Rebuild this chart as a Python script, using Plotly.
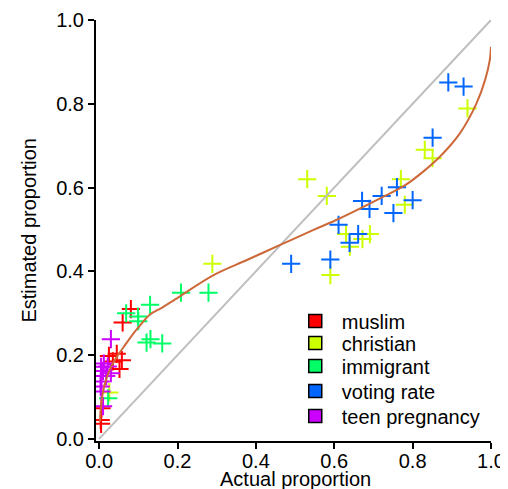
import plotly.graph_objects as go

# ---- data ----
muslim_x = [0.081, 0.060, 0.025, 0.045, 0.058, 0.052, 0.035, 0.006, 0.004, 0.005]
muslim_y = [0.310, 0.278, 0.198, 0.203, 0.188, 0.167, 0.185, 0.073, 0.045, 0.036]

christian_x = [0.940, 0.831, 0.851, 0.770, 0.531, 0.581, 0.780, 0.630, 0.691, 0.672, 0.640, 0.590, 0.289, 0.026]
christian_y = [0.789, 0.690, 0.670, 0.620, 0.620, 0.580, 0.559, 0.489, 0.489, 0.477, 0.459, 0.391, 0.418, 0.111]

immigrant_x = [0.209, 0.279, 0.130, 0.069, 0.099, 0.100, 0.121, 0.131, 0.161, 0.023]
immigrant_y = [0.349, 0.349, 0.320, 0.300, 0.292, 0.281, 0.230, 0.238, 0.228, 0.097]

voting_x = [0.891, 0.930, 0.851, 0.760, 0.721, 0.671, 0.800, 0.690, 0.751, 0.611, 0.661, 0.639, 0.590, 0.490]
voting_y = [0.851, 0.841, 0.719, 0.601, 0.580, 0.568, 0.570, 0.549, 0.539, 0.511, 0.489, 0.468, 0.428, 0.418]

teen_x = [0.030, 0.012, 0.022, 0.005, 0.010, 0.030, 0.005, 0.004, 0.004, 0.006, 0.010, 0.018]
teen_y = [0.238, 0.180, 0.173, 0.172, 0.162, 0.157, 0.150, 0.137, 0.125, 0.113, 0.078, 0.150]

curve_x = [0.002, 0.005, 0.010, 0.019, 0.031, 0.048, 0.066, 0.075, 0.100, 0.130, 0.160, 0.194,
           0.292, 0.377, 0.462, 0.547, 0.611, 0.717, 0.780, 0.827, 0.870, 0.921, 0.963, 0.985, 0.997, 1.0]
curve_y = [0.041, 0.077, 0.113, 0.145, 0.173, 0.200, 0.224, 0.236, 0.266, 0.297, 0.313, 0.333,
           0.391, 0.427, 0.463, 0.499, 0.525, 0.574, 0.605, 0.638, 0.674, 0.730, 0.801, 0.857, 0.905, 0.936]

diag_x = [0, 1]
diag_y = [0, 1]

tick_vals = [0.0, 0.2, 0.4, 0.6, 0.8, 1.0]
tick_text = ["0.0", "0.2", "0.4", "0.6", "0.8", "1.0"]

series = [
    ("muslim", muslim_x, muslim_y, "#FF0000"),
    ("christian", christian_x, christian_y, "#CCFF00"),
    ("immigrant", immigrant_x, immigrant_y, "#00FF66"),
    ("voting rate", voting_x, voting_y, "#0066FF"),
    ("teen pregnancy", teen_x, teen_y, "#CC00FF"),
]

FONT = "Liberation Sans, Arial, sans-serif"
FS = 20

# page has an 8px body margin; plot area spans pixels x 96..491, y 20..441 of the window
W, H = 500, 481
ML, MR, MT, MB = 88, 17, 12, 48
PLOT_H = H - MT - MB

def py_to_paper(p):
    return (441 - p) / PLOT_H

fig = go.Figure()

for name, xs, ys, col in series:
    fig.add_trace(go.Scatter(
        x=xs, y=ys, mode="markers", showlegend=False,
        marker=dict(symbol="cross-thin", size=13, line=dict(color=col, width=2)),
        hoverinfo="skip",
    ))

fig.add_trace(go.Scatter(x=diag_x, y=diag_y, mode="lines", showlegend=False,
                         line=dict(color="#BEBEBE", width=2), hoverinfo="skip"))
fig.add_trace(go.Scatter(x=curve_x, y=curve_y, mode="lines", showlegend=False,
                         line=dict(color="#CD6839", width=2, shape="spline"), hoverinfo="skip"))

legend_rows = [321, 343, 366, 391, 416]
legend_layouts = {}
for i, (name, xs, ys, col) in enumerate(series):
    key = "legend" if i == 0 else f"legend{i + 1}"
    fig.add_trace(go.Scatter(
        x=[None], y=[None], mode="markers", name=name, legend=key,
        marker=dict(symbol="square", size=13, color=col, line=dict(color="black", width=1.5)),
    ))
    legend_layouts[key] = dict(
        x=0.488, y=py_to_paper(legend_rows[i]), xanchor="left", yanchor="middle",
        font=dict(family=FONT, size=FS, color="black"),
        bgcolor="rgba(0,0,0,0)", itemwidth=43,
    )

axis_common = dict(
    showline=True, linecolor="black", linewidth=2,
    ticks="outside", ticklen=6, tickwidth=2, tickcolor="black",
    showgrid=False, zeroline=False, automargin=False,
    tickvals=tick_vals, ticktext=tick_text,
    tickfont=dict(family=FONT, size=FS, color="black"),
)

fig.update_layout(
    width=W, height=H,
    margin=dict(l=ML, r=MR, t=MT, b=MB),
    paper_bgcolor="white", plot_bgcolor="white",
    font=dict(family=FONT, size=FS, color="black"),
    xaxis=dict(range=[-0.008, 1.0], ticklabelstandoff=-5, **axis_common),
    yaxis=dict(range=[-0.005, 1.0], **axis_common),
    annotations=[
        dict(text="Actual proportion", xref="paper", yref="paper", x=0.505, y=py_to_paper(479),
             xanchor="center", yanchor="middle", showarrow=False,
             font=dict(family=FONT, size=FS, color="black")),
        dict(text="Estimated proportion", xref="paper", yref="paper", x=-0.172, y=0.5,
             xanchor="center", yanchor="middle", textangle=-90, showarrow=False,
             font=dict(family=FONT, size=FS, color="black")),
    ],
    **legend_layouts,
)

fig.write_html("out.html")
